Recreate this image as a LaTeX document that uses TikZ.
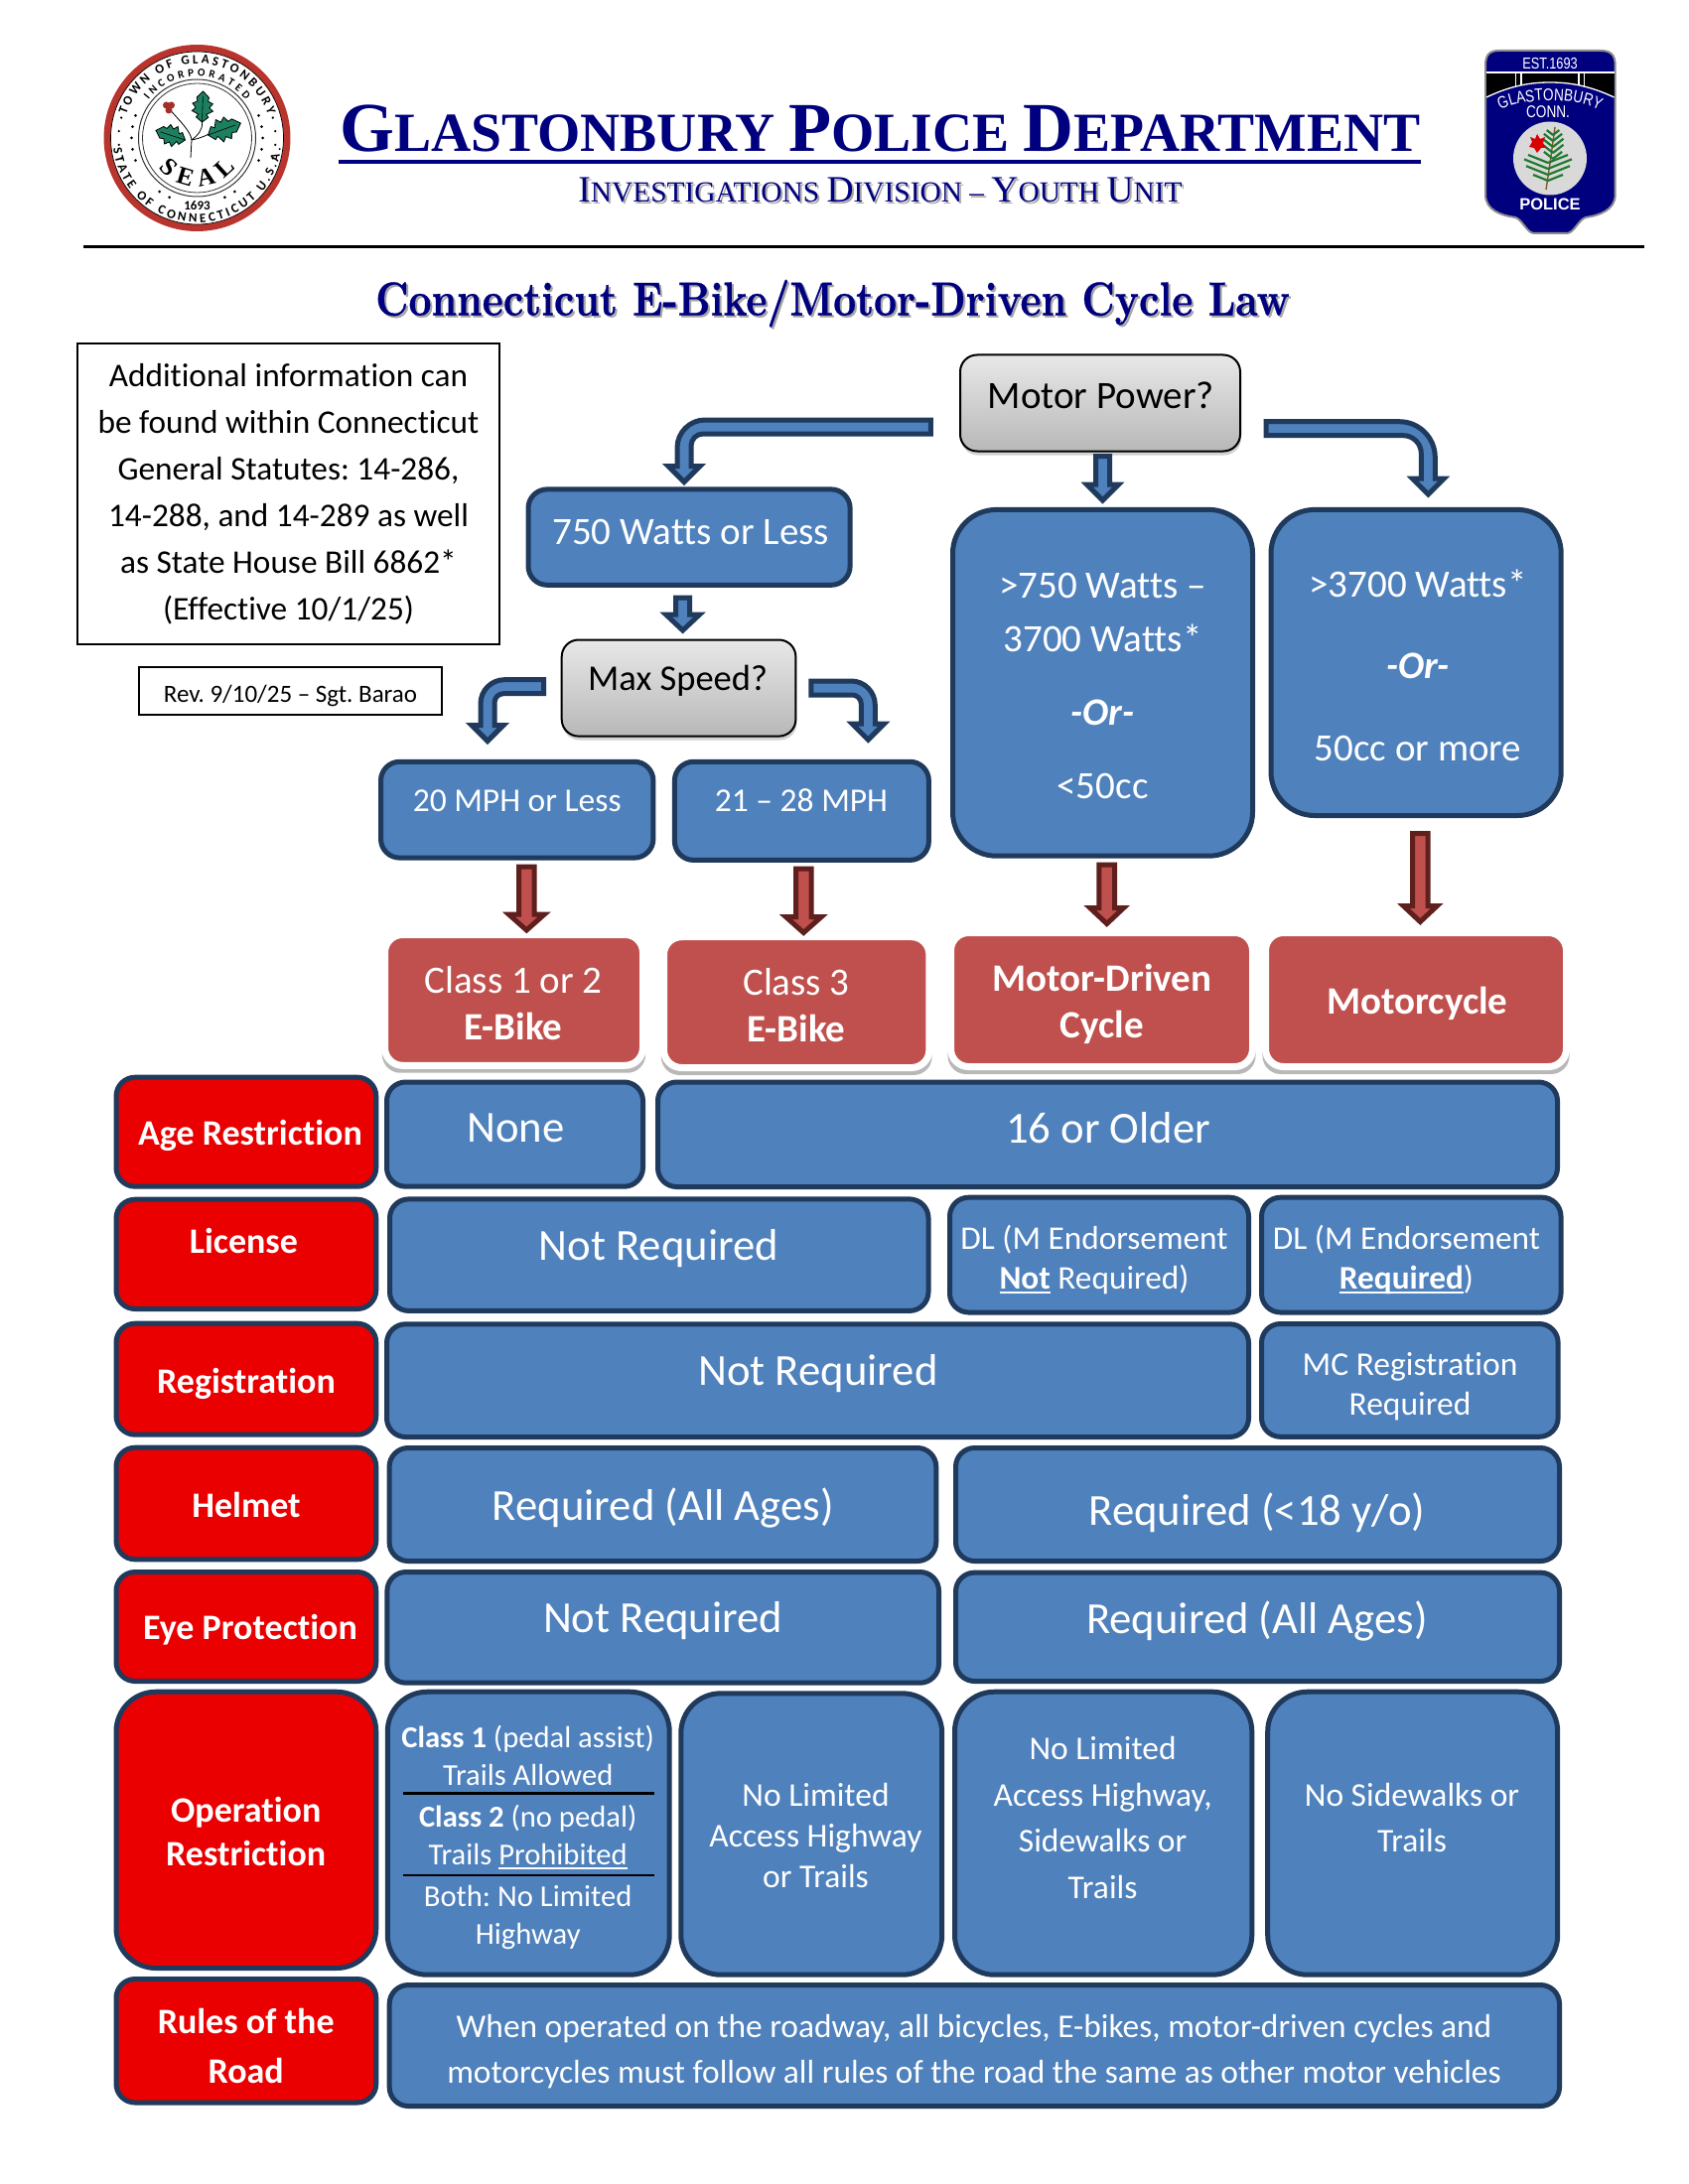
\documentclass[tikz,border=0pt]{standalone}
\usepackage{fontspec}
\setmainfont{Carlito}[Ligatures=NoCommon]
\newfontfamily\timesf{Liberation Serif}
\newfontfamily\arialf{Liberation Sans}
\newfontfamily\arialc[FakeStretch=0.8]{Liberation Sans}
\newfontfamily\lmtitle[Extension=.otf,UprightFont=lmroman10-bold,FakeStretch=0.834,FakeBold=0.5]{lmroman10-bold}
\usetikzlibrary{calc,shadows,decorations.text}
\frenchspacing
\definecolor{boxblue}{HTML}{4F81BD}
\definecolor{boxdark}{HTML}{1F3A5C}
\definecolor{rowred}{HTML}{EA0000}
\definecolor{classred}{HTML}{C0504D}
\definecolor{arrowdark}{HTML}{5E1F1D}
\definecolor{navy}{HTML}{00007F}
\definecolor{ringred}{HTML}{B8342C}
\definecolor{hollygreen}{HTML}{1C8060}
\definecolor{pinegreen}{HTML}{1E7A2E}
\newcommand\fs[2]{\fontsize{#1bp}{#2bp}\selectfont}
\newcommand\ulx[1]{\setbox0\hbox{#1}\rlap{\rule[-4.5bp]{\wd0}{2.4bp}}\box0\relax}
\newcommand\shadowtext[2]{\rlap{\kern2bp\raisebox{-2bp}{\textcolor{black!35}{#2}}}\textcolor{#1}{#2}}
\tikzset{
  bluebox/.style={rectangle,rounded corners=#1,draw=boxdark,fill=boxblue},
  bluebox/.default=19bp,
  redbox/.style={rectangle,rounded corners=#1,draw=boxdark,fill=rowred},
  redbox/.default=19bp,
  classbox/.style={rectangle,rounded corners=18bp,draw=white,fill=classred,
     general shadow={fill=black,opacity=.28,shadow scale=1.02,shadow xshift=0bp,shadow yshift=-6bp}},
  askbox/.style={rectangle,rounded corners=17bp,draw=black,top color=black!9,bottom color=black!28,
     drop shadow={shadow xshift=1bp,shadow yshift=-4bp,opacity=.35}},
  notebox/.style={rectangle,draw=black,fill=white},
  bluearrow/.style={draw=boxdark,fill=boxblue,line width=5bp,line join=miter,miter limit=4},
  redarrow/.style={draw=arrowdark,fill=classred,line width=5bp,line join=miter,miter limit=4},
}
% box given by its outer bounds
\newcommand\bx[7][5]{%
  \pgfmathsetmacro\bxw{#5-#3-#1}\pgfmathsetmacro\bxh{#6-#4-#1}%
  \node[#7,line width=#1bp,minimum width=\bxw bp,minimum height=\bxh bp,inner sep=0pt,outer sep=0pt] (#2) at ({(#3+#5)/2},{(#4+#6)/2}) {};}
% text block: first baseline at y
\newcommand\tx[7][white]{%
  \node[anchor=base,inner sep=0pt,text=#1,font=\fs{#3}{#4}] (#2) at (#5,{#6+1.3}) {\begin{tabular}[t]{@{}c@{}}#7\end{tabular}};}
% straight block arrow between named coordinates
\newcommand\stra[5]{% style,start,tip,h,H
  \draw[#1] ($(#2)+(-#4,0)$) -- ($(#3)+(-#4,-16)$) -- ($(#3)+(-#5,-16)$) -- (#3) -- ($(#3)+(#5,-16)$) -- ($(#3)+(#4,-16)$) -- ($(#2)+(#4,0)$) -- cycle;}
% bent block arrow: horizontal from start, then down to tip
\newcommand\benta[5]{% start,tip,s,Ro,Ri
  \def\hh{7}\def\HH{16}\def\LL{16}\def\ss{#3}\def\Ro{#4}\def\Ri{#5}%
  \draw[bluearrow] ($(#1)+(0,-\hh)$) -- ($(#2|-#1)+({\ss*(\hh-\Ro)},-\hh)$)
    .. controls ($(#2|-#1)+({\ss*(\hh-.45*\Ro)},-\hh)$) and ($(#2|-#1)+({\ss*\hh},{-\hh+.45*\Ro})$) .. ($(#2|-#1)+({\ss*\hh},{-\hh+\Ro})$)
    -- ($(#2)+({\ss*\hh},-\LL)$) -- ($(#2)+({\ss*\HH},-\LL)$) -- (#2) -- ($(#2)+({-\ss*\HH},-\LL)$) -- ($(#2)+({-\ss*\hh},-\LL)$)
    -- ($(#2|-#1)+({-\ss*\hh},{\hh+\Ri})$)
    .. controls ($(#2|-#1)+({-\ss*\hh},{\hh+.45*\Ri})$) and ($(#2|-#1)+({-\ss*(\hh+.45*\Ri)},\hh)$) .. ($(#2|-#1)+({-\ss*(\hh+\Ri)},\hh)$)
    -- ($(#1)+(0,\hh)$) -- cycle;}
\newcommand\holly[4]{% x,y,rot,len (y up)
  \begin{scope}[shift={(#1,#2)},rotate=#3,x=#4bp,y=#4bp]
  \draw[fill=hollygreen,draw=black,line width=.8bp,line join=miter]
   (0,0)--(.16,.2)--(.25,.13)--(.36,.34)--(.47,.22)--(.6,.33)--(.68,.17)--(.8,.2)--(1,0)
   --(.8,-.2)--(.68,-.17)--(.6,-.33)--(.47,-.22)--(.36,-.34)--(.25,-.13)--(.16,-.2)--cycle;
  \draw[line width=.6bp,black] (0,0)--(.85,0);
  \end{scope}}
\begin{document}
\begin{tikzpicture}[x=1bp,y=-1bp]
\useasboundingbox (0,0) rectangle (1700,2200);
\fill[white] (0,0) rectangle (1700,2200);

% ---- town seal
\begin{scope}[shift={(198.5,139)},y=1bp]
 \fill[ringred] (0,0) circle[radius=94];
 \draw[black,line width=.7bp,fill=white] (0,0) circle[radius=87];
 \draw[black!80,line width=1bp] (0,0) circle[radius=59];
 \draw[black!80,line width=.8bp] (0,0) circle[radius=55];
 \foreach \a in {160,170,180,190,200,-20,-10,0,10,20}{\fill (\a:66) circle[radius=1.5];}
 \foreach \a in {165,175,185,195,-15,-5,5,15}{\fill (\a:79) circle[radius=1.3];}
 \foreach \a in {235,245,295,305}{\fill (\a:66) circle[radius=1.5];}
 \path[decorate,decoration={text along path,text align={fit to path},text={|\fs{13}{13}\bfseries|TOWN OF GLASTONBURY}}]
   (162:75) arc[start angle=162,end angle=18,radius=75];
 \path[decorate,decoration={text along path,text align={fit to path},text={|\fs{11}{11}\bfseries|INCORPORATED}}]
   (142:62) arc[start angle=142,end angle=38,radius=62];
 \path[decorate,decoration={text along path,text align={fit to path},text={|\fs{13}{13}\bfseries|STATE OF CONNECTICUT U.S.A.}}]
   (187:85) arc[start angle=187,end angle=353,radius=85];
 \path[decorate,decoration={text along path,text align={fit to path},text={|\timesf\fs{25}{25}\bfseries|SEAL}}]
   (218:49) arc[start angle=218,end angle=322,radius=49];
 \node[font=\fs{13}{13}\bfseries,inner sep=0pt] (sealyear) at (0,-68) {1693};
 \draw[line width=.8bp] (-6.5,-20) -- (-5.5,-2);
 \draw[line width=.8bp] (-5.5,-2) .. controls (-6,6) and (-18,18) .. (-27,28);
 \draw[line width=.8bp] (-5.5,-2) .. controls (0,2) and (6,8) .. (5,16);
 \draw[line width=.8bp] (-5.5,-2) .. controls (0,-1) and (6,1) .. (12,4);
 \holly{5}{16}{88}{31}
 \holly{-12}{-2}{162}{31}
 \holly{11}{3}{20}{35}
 \fill[ringred!90!black] (-31,33) circle[radius=3.5] (-26,33) circle[radius=3.5] (-28.5,28) circle[radius=3.5];
\end{scope}

% ---- police badge
\draw[fill=navy,draw=black!45,line width=2bp]
 (1496,66) .. controls (1496,55) and (1500,51) .. (1510,51) -- (1612,51)
 .. controls (1622,51) and (1626.7,55) .. (1626.7,66) -- (1626.7,196)
 .. controls (1626.7,212) and (1610,217) .. (1597,219)
 .. controls (1590,221) and (1585,235) .. (1578,235) -- (1545,235)
 .. controls (1538,235) and (1533,221) .. (1526,219)
 .. controls (1512,217) and (1496,212) .. (1496,196) -- cycle;
\fill[black] (1497,73) -- (1625.5,73) -- (1625.5,98) .. controls (1600,86) and (1580,83) .. (1561,83) .. controls (1542,83) and (1522,86) .. (1497,98) -- cycle;
\draw[white,line width=1.3bp] (1497,73) -- (1625.5,73);
\draw[white,line width=1.3bp] (1497,98) .. controls (1522,86) and (1542,83) .. (1561,83) .. controls (1580,83) and (1600,86) .. (1625.5,98);
\draw[white,line width=1.2bp] (1526.5,73) -- (1526.5,88) (1532,73) -- (1532,86) (1590,73) -- (1590,86) (1595.5,73) -- (1595.5,88);
\node[anchor=base,inner sep=0pt,text=white,font=\arialc\fs{16}{16}] (badgeest) at (1561,70) {EST.1693};
\path[decorate,decoration={text along path,text align=center,text color=white,text={|\arialc\fs{17}{17}|GLASTONBURY}}]
  (1506,114) .. controls (1530,97) and (1592,97) .. (1616,114);
\node[anchor=base,inner sep=0pt,text=white,font=\arialc\fs{17}{17}] (badgeconn) at (1559,119) {CONN.};
\fill[black!15] (1561,159.5) circle[radius=37];
\draw[line width=1.4bp,brown!70!black] (1557,191) .. controls (1560,172) and (1563,150) .. (1566,128);
\foreach \t/\l in {136/9,142/13,148/15,154/15,160/13}{
  \draw[line width=2.2bp,pinegreen] (1564,\t) -- ++(-\l*.7,-\l*.55);
  \draw[line width=2.2bp,pinegreen] (1564,\t) -- ++(\l*.7,-\l*.55);
}
\foreach \t/\l in {164/20,170/24,176/22,182/15}{
  \draw[line width=2.2bp,pinegreen] (1559,\t) -- ++(-\l,-\l*.4);
  \draw[line width=2.2bp,pinegreen] (1559,\t) -- ++(\l,-\l*.4);
}
\fill[red!85!black] (1548,135) -- (1551,140) -- (1556,138) -- (1554,144) -- (1557,149) -- (1552,149) -- (1548,154) -- (1545,149) -- (1540,148) -- (1543,143) -- (1541,138) -- (1546,140) -- cycle;
\node[anchor=base,inner sep=0pt,text=white,font=\arialf\bfseries\fs{16.5}{17}] (badgepolice) at (1561,211.7) {POLICE};

% ---- heading
\node[anchor=base,inner sep=0pt,text=navy,font=\timesf\bfseries\fs{55.6}{56}] (heading) at (886.5,153)
  {{\fs{70.5}{71}G}LASTONBURY {\fs{70.5}{71}P}OLICE {\fs{70.5}{71}D}EPARTMENT};
\draw[navy,line width=4bp] (341,163) -- (1431,163);
\node[anchor=base,inner sep=0pt,font=\timesf\fs{29.4}{30}] (subhead) at (886.5,204)
  {\shadowtext{navy}{{\fs{37.5}{38}I}NVESTIGATIONS {\fs{37.5}{38}D}IVISION – {\fs{37.5}{38}Y}OUTH {\fs{37.5}{38}U}NIT}};
\draw[black,line width=3bp] (84,249) -- (1656,249);
\node[anchor=base,inner sep=0pt,font=\lmtitle\fs{48}{48}] (lawtitle) at (838.5,317.7)
  {\shadowtext{navy}{Connecticut E-Bike/Motor-Driven Cycle Law}};

% ---- notes
\bx[2.5]{infobox}{77}{345}{504}{650}{notebox}
\tx[black]{infotext}{33.3}{47}{290.5}{388}{Additional information can\\be found within Connecticut\\General Statutes: 14-286,\\14-288, and 14-289 as well\\as State House Bill 6862*\\(Effective 10/1/25)}
\bx[2]{revbox}{139}{671}{446}{721}{notebox}
\tx[black]{revtext}{25}{25}{292.5}{706}{Rev. 9/10/25 – Sgt. Barao}

% ---- decision boxes
\bx[2]{motorq}{966}{356.5}{1250}{455.5}{askbox}
\tx[black]{motorqtext}{39}{44}{1108.8}{409.8}{Motor Power?}
\bx{w750}{529.5}{490.4}{858.6}{591.8}{bluebox}
\tx{w750text}{39}{44}{695.7}{546.7}{750 Watts or Less}
\bx{w3700}{957}{510.9}{1264}{864.7}{bluebox=44bp}
\tx{w3700text}{39}{54}{1110.5}{600.7}{>750 Watts –\\3700 Watts*\\[20bp]\textbf{\textit{-Or-}}\\[20bp]<50cc}
\bx{wmore}{1277.5}{510.9}{1574.7}{824}{bluebox=44bp}
\tx{wmoretext}{39}{82.5}{1428}{599.8}{>3700 Watts*\\\textbf{\textit{-Or-}}\\50cc or more}
\bx[2]{speedq}{564.7}{643.5}{802.4}{742.6}{askbox}
\tx[black]{speedqtext}{36.5}{44}{682.6}{694}{Max Speed?}
\bx{mph20}{381}{764.8}{660.4}{866.6}{bluebox}
\tx{mph20text}{33.5}{40}{520.7}{815.7}{20 MPH or Less}
\bx{mph28}{676.9}{764.8}{937.9}{868.9}{bluebox}
\tx{mph28text}{33.5}{40}{807}{815.7}{21 – 28 MPH}

% ---- class boxes
\bx[7]{class12}{384}{938}{651}{1076.8}{classbox}
\tx{class12text}{39}{46.7}{517}{999.5}{Class 1 or 2\\\textbf{E-Bike}}
\bx[7]{class3}{665}{940.2}{939.4}{1079}{classbox}
\tx{class3text}{39}{47}{802}{1001.4}{Class 3\\\textbf{E-Bike}}
\bx[7]{classmd}{954}{936}{1265}{1078}{classbox}
\tx{classmdtext}{39}{47}{1110}{997}{\textbf{Motor-Driven}\\\textbf{Cycle}}
\bx[7]{classmc}{1271}{936}{1581}{1078}{classbox}
\tx{classmctext}{39}{47}{1427.4}{1020.6}{\textbf{Motorcycle}}

% ---- flow arrows
\coordinate (a1s) at (937.3,430);       \coordinate (a1t) at (689,485.5);
\coordinate (a2s) at (1110.5,459.5);    \coordinate (a2t) at (1110.5,504);
\coordinate (a3s) at (1275,431.7);      \coordinate (a3t) at (1438.3,498);
\coordinate (a4s) at (687.6,602);       \coordinate (a4t) at (687.6,635);
\coordinate (a5s) at (547.7,691.7);     \coordinate (a5t) at (491,746.5);
\coordinate (a6s) at (816.8,693);       \coordinate (a6t) at (874.3,745.2);
\coordinate (r1s) at (530.3,873);       \coordinate (r1t) at (530.3,937);
\coordinate (r2s) at (809.3,875.2);     \coordinate (r2t) at (809.3,939.5);
\coordinate (r3s) at (1114.7,871);      \coordinate (r3t) at (1114.7,930.5);
\coordinate (r4s) at (1430.3,839.5);    \coordinate (r4t) at (1430.3,928.5);
\benta{a1s}{a1t}{-1}{28}{12}
\stra{bluearrow}{a2s}{a2t}{7}{16}
\benta{a3s}{a3t}{1}{36}{18}
\stra{bluearrow}{a4s}{a4t}{7}{17}
\benta{a5s}{a5t}{-1}{24}{9}
\benta{a6s}{a6t}{1}{24}{9}
\stra{redarrow}{r1s}{r1t}{7.8}{18}
\stra{redarrow}{r2s}{r2t}{7.8}{18}
\stra{redarrow}{r3s}{r3t}{7.8}{17}
\stra{redarrow}{r4s}{r4t}{7.8}{17}

% ---- row labels
\bx{rowage}{114.5}{1082.7}{381.3}{1197.7}{redbox}
\tx{rowagetext}{36}{44}{252}{1151.7}{\textbf{Age Restriction}}
\bx{rowlic}{114.5}{1205.7}{381.3}{1321}{redbox}
\tx{rowlictext}{36}{44}{245.4}{1261}{\textbf{License}}
\bx{rowreg}{114.5}{1330.7}{381.3}{1447.7}{redbox}
\tx{rowregtext}{36}{44}{248}{1401.7}{\textbf{Registration}}
\bx{rowhel}{114.5}{1455.7}{381.3}{1573.3}{redbox}
\tx{rowheltext}{36}{44}{248}{1526.7}{\textbf{Helmet}}
\bx{roweye}{114.5}{1581}{381.3}{1696}{redbox}
\tx{roweyetext}{36}{44}{252}{1650}{\textbf{Eye Protection}}
\bx{rowop}{114.5}{1701.7}{381.3}{1985}{redbox=40bp}
\tx{rowoptext}{36}{43.7}{247.7}{1834}{\textbf{Operation}\\\textbf{Restriction}}
\bx{rowrul}{114.5}{1991}{381.3}{2120.5}{redbox}
\tx{rowrultext}{36}{50}{247.7}{2046.7}{\textbf{Rules of the}\\\textbf{Road}}

% ---- table cells
\bx{agenone}{387}{1087.5}{650}{1197.7}{bluebox}
\tx{agenonetext}{44.7}{50}{519.3}{1149.5}{None}
\bx{age16}{660}{1087.5}{1571}{1198}{bluebox}
\tx{age16text}{44.7}{50}{1116}{1149.8}{16 or Older}
\bx{licno}{390}{1205.4}{937.5}{1322.9}{bluebox}
\tx{licnotext}{44.7}{50}{663.5}{1268}{Not Required}
\bx{licdl}{954}{1203.7}{1260}{1324.5}{bluebox}
\tx{licdltext}{33.3}{40.9}{1102}{1256.7}{DL (M Endorsement\\\ulx{\textbf{Not}} Required)}
\bx{licm}{1268}{1203.7}{1574.5}{1324.5}{bluebox}
\tx{licmtext}{33.3}{40.9}{1416.5}{1256.7}{DL (M Endorsement\\\ulx{\textbf{Required}})}
\bx{regno}{387}{1331.3}{1260}{1450}{bluebox}
\tx{regnotext}{44.7}{50}{823.9}{1393.7}{Not Required}
\bx{regmc}{1268}{1331}{1571.6}{1449.8}{bluebox}
\tx{regmctext}{33.5}{40}{1420}{1384}{MC Registration\\Required}
\bx{helall}{389.6}{1456}{945.3}{1575}{bluebox}
\tx{helalltext}{44.7}{50}{667.7}{1530}{Required (All Ages)}
\bx{hel18}{960}{1456}{1573}{1575}{bluebox}
\tx{hel18text}{44.7}{50}{1266}{1534.7}{Required (<18 y/o)}
\bx{eyeno}{387.4}{1581}{948}{1697.7}{bluebox}
\tx{eyenotext}{44.7}{50}{667.7}{1643.3}{Not Required}
\bx{eyeall}{960}{1581.6}{1573}{1696}{bluebox}
\tx{eyealltext}{44.7}{50}{1266}{1643.7}{Required (All Ages)}
\bx{opclass}{387.8}{1701.7}{676.7}{1991.7}{bluebox=40bp}
\tx{opclasstext}{30.6}{38}{531.7}{1759.3}{\textbf{Class 1} (pedal assist)\\Trails Allowed\\[4bp]\textbf{Class 2} (no pedal)\\Trails \ulx{Prohibited}\\[3.4bp]Both: No Limited\\Highway}
\draw[black,line width=2.5bp] (406,1806.7) -- (659,1806.7);
\draw[black,line width=2.5bp] (406,1889) -- (659,1889);
\bx{opthree}{683.3}{1703.3}{951.2}{1991.7}{bluebox=40bp}
\tx{opthreetext}{33.5}{41}{821.5}{1818.3}{No Limited\\Access Highway\\or Trails}
\bx{opmd}{959}{1701.7}{1263.3}{1991.7}{bluebox=40bp}
\tx{opmdtext}{33.5}{46.7}{1110.6}{1771}{No Limited\\Access Highway,\\Sidewalks or\\Trails}
\bx{opmc}{1274.2}{1701.7}{1571.2}{1991.7}{bluebox=40bp}
\tx{opmctext}{33.5}{46}{1422}{1818.3}{No Sidewalks or\\Trails}
\bx{rulesbox}{389.7}{1997}{1573}{2124}{bluebox}
\tx{rulestext}{33.4}{46}{981}{2050.7}{When operated on the roadway, all bicycles, E-bikes, motor-driven cycles and\\motorcycles must follow all rules of the road the same as other motor vehicles}
\end{tikzpicture}
\end{document}
